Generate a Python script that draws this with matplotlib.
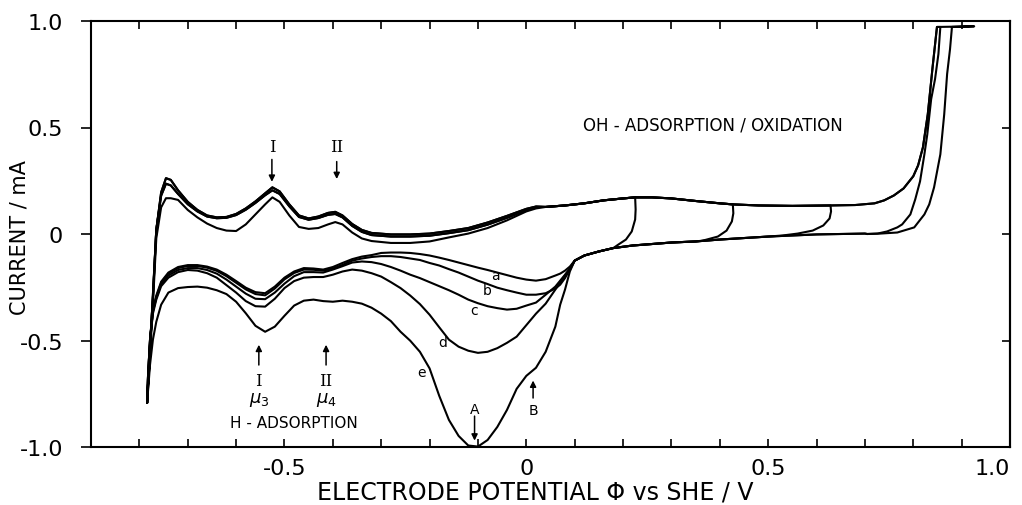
import matplotlib
matplotlib.use("Agg")
import matplotlib.pyplot as plt

# ---- anodic sweep, hydrogen + double layer range (V, mA) ----
pot_anod_h = [-0.784, -0.782, -0.778, -0.772, -0.765, -0.755, -0.745, -0.735, -0.72, -0.70,
              -0.68, -0.66, -0.64, -0.62, -0.60, -0.58, -0.56, -0.54, -0.525, -0.51,
              -0.49, -0.47, -0.45, -0.43, -0.41, -0.395, -0.38, -0.36, -0.34, -0.32,
              -0.28, -0.24, -0.20, -0.16, -0.12, -0.08, -0.04, 0.0, 0.02]
cur_anod_1 = [-0.793, -0.70, -0.52, -0.30, 0.02, 0.195, 0.262, 0.254, 0.205, 0.151,
              0.113, 0.087, 0.078, 0.08, 0.094, 0.12, 0.153, 0.191, 0.219, 0.2,
              0.139, 0.087, 0.073, 0.082, 0.099, 0.104, 0.087, 0.047, 0.019, 0.005,
              -0.002, -0.002, 0.002, 0.014, 0.028, 0.054, 0.085, 0.118, 0.129]
cur_anod_2 = [-0.793, -0.70, -0.545, -0.285, 0.02, 0.18, 0.236, 0.228, 0.188, 0.14,
              0.106, 0.082, 0.074, 0.076, 0.089, 0.114, 0.146, 0.182, 0.205, 0.188,
              0.13, 0.08, 0.067, 0.075, 0.09, 0.094, 0.078, 0.038, 0.01, -0.005,
              -0.012, -0.012, -0.008, 0.004, 0.018, 0.044, 0.076, 0.112, 0.127]
cur_anod_3 = [-0.793, -0.72, -0.57, -0.33, -0.02, 0.125, 0.168, 0.168, 0.16, 0.113,
              0.078, 0.049, 0.028, 0.016, 0.014, 0.045, 0.092, 0.139, 0.172, 0.151,
              0.087, 0.033, 0.024, 0.028, 0.045, 0.056, 0.045, 0.007, -0.021, -0.033,
              -0.042, -0.042, -0.035, -0.016, 0.002, 0.028, 0.064, 0.106, 0.12]

# ---- anodic sweep, OH adsorption / oxidation range (shared) ----
pot_anod_ox = [0.04, 0.08, 0.12, 0.16, 0.20, 0.225, 0.26, 0.30, 0.35, 0.40, 0.427, 0.48,
               0.55, 0.629, 0.68, 0.72, 0.74, 0.76, 0.78, 0.80, 0.81, 0.82, 0.83, 0.84, 0.849]
cur_anod_ox = [0.127, 0.134, 0.144, 0.158, 0.167, 0.172, 0.172, 0.167, 0.155, 0.144, 0.139, 0.134,
               0.132, 0.134, 0.136, 0.144, 0.158, 0.181, 0.214, 0.271, 0.322, 0.407, 0.562, 0.784, 0.972]

# ---- reversal of each sweep and way back to the double layer line ----
pot_ret_a = [0.225, 0.226, 0.225, 0.218, 0.206, 0.19]
cur_ret_a = [0.172, 0.115, 0.068, 0.012, -0.026, -0.05]
pot_ret_b = [0.427, 0.428, 0.425, 0.414, 0.396, 0.365]
cur_ret_b = [0.139, 0.097, 0.059, 0.016, -0.012, -0.031]
pot_ret_c = [0.629, 0.630, 0.627, 0.614, 0.592, 0.561, 0.53]
cur_ret_c = [0.134, 0.106, 0.073, 0.04, 0.016, 0.002, -0.007]
pot_ret_d = [0.856, 0.852, 0.845, 0.837, 0.829, 0.823, 0.814, 0.804, 0.794, 0.777,
             0.767, 0.746, 0.726, 0.705]
cur_ret_d = [0.972, 0.845, 0.727, 0.633, 0.468, 0.374, 0.247, 0.162, 0.092, 0.045,
             0.031, 0.012, 0.002, 0.0]
pot_ret_e = [0.926, 0.880, 0.876, 0.870, 0.864, 0.856, 0.843, 0.833, 0.823, 0.802,
             0.767, 0.732, 0.705]
cur_ret_e = [0.975, 0.972, 0.868, 0.751, 0.562, 0.374, 0.219, 0.139, 0.092, 0.031,
             0.007, 0.002, 0.0]

# ---- cathodic double layer line (shared) ----
pot_dl = [0.70, 0.65, 0.60, 0.55, 0.50, 0.45, 0.40, 0.35, 0.30, 0.26, 0.22, 0.18, 0.15, 0.12, 0.10]
cur_dl = [0.002, 0.0, -0.002, -0.007, -0.012, -0.019, -0.026, -0.035, -0.04, -0.047,
          -0.054, -0.066, -0.082, -0.101, -0.125]

# ---- cathodic sweep, oxide reduction + hydrogen range ----
pot_cath = [-0.784, -0.782, -0.778, -0.772, -0.765, -0.755, -0.74, -0.72, -0.70, -0.68,
            -0.66, -0.64, -0.62, -0.60, -0.58, -0.56, -0.54, -0.52, -0.50, -0.48,
            -0.46, -0.44, -0.42, -0.40, -0.38, -0.36, -0.34, -0.32, -0.30, -0.28,
            -0.26, -0.24, -0.22, -0.20, -0.18, -0.16, -0.14, -0.12, -0.10, -0.08,
            -0.06, -0.04, -0.02, 0.0, 0.02, 0.04, 0.06, 0.07, 0.08, 0.09]
cur_cath_a = [-0.793, -0.661, -0.496, -0.355, -0.289, -0.224, -0.181, -0.155, -0.146, -0.146,
              -0.153, -0.167, -0.191, -0.221, -0.252, -0.273, -0.278, -0.247, -0.205, -0.176,
              -0.16, -0.162, -0.167, -0.155, -0.136, -0.118, -0.106, -0.099, -0.089, -0.087,
              -0.087, -0.089, -0.094, -0.101, -0.111, -0.122, -0.134, -0.146, -0.158, -0.169,
              -0.181, -0.193, -0.205, -0.214, -0.219, -0.212, -0.195, -0.186, -0.172, -0.153]
cur_cath_b = [-0.793, -0.665, -0.50, -0.36, -0.295, -0.23, -0.186, -0.16, -0.15, -0.15,
              -0.158, -0.173, -0.198, -0.229, -0.26, -0.282, -0.288, -0.256, -0.213, -0.183,
              -0.167, -0.168, -0.172, -0.162, -0.145, -0.125, -0.115, -0.108, -0.104, -0.104,
              -0.108, -0.115, -0.122, -0.136, -0.148, -0.165, -0.181, -0.2, -0.219, -0.235,
              -0.252, -0.264, -0.275, -0.285, -0.285, -0.278, -0.256, -0.238, -0.207, -0.167]
cur_cath_c = [-0.793, -0.661, -0.496, -0.365, -0.30, -0.236, -0.195, -0.169, -0.16, -0.16,
              -0.169, -0.186, -0.214, -0.247, -0.28, -0.304, -0.306, -0.275, -0.233, -0.198,
              -0.179, -0.179, -0.181, -0.167, -0.151, -0.134, -0.129, -0.132, -0.141, -0.155,
              -0.172, -0.191, -0.207, -0.226, -0.245, -0.264, -0.285, -0.308, -0.325, -0.339,
              -0.348, -0.355, -0.351, -0.336, -0.322, -0.285, -0.247, -0.219, -0.191, -0.162]
cur_cath_d = [-0.793, -0.661, -0.505, -0.374, -0.308, -0.245, -0.205, -0.179, -0.169, -0.172,
              -0.184, -0.205, -0.24, -0.275, -0.315, -0.339, -0.341, -0.304, -0.254, -0.221,
              -0.205, -0.202, -0.202, -0.191, -0.176, -0.167, -0.172, -0.184, -0.2, -0.226,
              -0.254, -0.289, -0.329, -0.379, -0.438, -0.496, -0.529, -0.548, -0.558, -0.553,
              -0.536, -0.511, -0.482, -0.428, -0.374, -0.327, -0.261, -0.228, -0.195, -0.165]
cur_cath_e = [-0.793, -0.732, -0.614, -0.496, -0.412, -0.332, -0.275, -0.254, -0.249, -0.247,
              -0.252, -0.264, -0.282, -0.318, -0.372, -0.431, -0.459, -0.435, -0.384, -0.336,
              -0.313, -0.308, -0.315, -0.318, -0.313, -0.318, -0.327, -0.346, -0.374, -0.409,
              -0.459, -0.501, -0.553, -0.631, -0.76, -0.873, -0.948, -0.993, -0.998, -0.967,
              -0.906, -0.826, -0.727, -0.666, -0.628, -0.553, -0.435, -0.332, -0.261, -0.176]

# label of each trace and where it sits
trace_names = ['a', 'b', 'c', 'd', 'e']
trace_label_pos = [(-0.064, -0.191), (-0.08, -0.261), (-0.109, -0.355), (-0.172, -0.506), (-0.216, -0.647)]

traces = {
    'a': (cur_anod_1, 0.225, pot_ret_a, cur_ret_a, cur_cath_a),
    'b': (cur_anod_1, 0.427, pot_ret_b, cur_ret_b, cur_cath_b),
    'c': (cur_anod_2, 0.629, pot_ret_c, cur_ret_c, cur_cath_c),
    'd': (cur_anod_2, 0.849, pot_ret_d, cur_ret_d, cur_cath_d),
    'e': (cur_anod_3, 0.849, pot_ret_e, cur_ret_e, cur_cath_e),
}


def full_cycle(cur_anod, v_rev, ret_pot, ret_cur, cur_cath):
    pot = list(pot_anod_h)
    cur = list(cur_anod)
    for p, c in zip(pot_anod_ox, cur_anod_ox):
        if p <= v_rev:
            pot.append(p)
            cur.append(c)
    pot += ret_pot
    cur += ret_cur
    for p, c in zip(pot_dl, cur_dl):
        if p < min(ret_pot):
            pot.append(p)
            cur.append(c)
    pot += pot_cath[::-1]
    cur += cur_cath[::-1]
    return pot, cur


fig = plt.figure(figsize=(10.22, 5.06), dpi=100)
ax = fig.add_axes([91 / 1022, 1 - 448 / 506, 919 / 1022, 426 / 506])

for name in trace_names:
    p, c = full_cycle(*traces[name])
    ax.plot(p, c, color='black', lw=1.5, solid_joinstyle='round', solid_capstyle='round')

for name, (x, y) in zip(trace_names, trace_label_pos):
    ax.text(x, y, name, fontsize=10, ha='center', va='center')

ax.set_xlim(-0.9, 1.0)
ax.set_ylim(-1.0, 1.0)
ax.set_xticks([-0.5, 0.0, 0.5, 1.0], labels=['-0.5', '0', '0.5', '1.0'])
ax.set_xticks([round(-0.8 + 0.1 * k, 1) for k in range(18)], minor=True)
ax.set_yticks([-1.0, -0.5, 0.0, 0.5, 1.0], labels=['-1.0', '-0.5', '0', '0.5', '1.0'])
ax.tick_params(axis='x', which='both', direction='in', top=True, length=6, width=1.2,
               labelsize=16, pad=8)
ax.tick_params(axis='y', direction='out', length=7, width=1.2, labelsize=16, pad=13)
# last x label would stick out past the frame, keep it inside
ax.get_xticklabels()[-1].set_horizontalalignment('right')
rax = ax.secondary_yaxis('right')
rax.set_yticks([-0.5, 0.0, 0.5], labels=['', '', ''])
rax.tick_params(direction='in', length=6, width=1.2)
for s in list(ax.spines.values()) + list(rax.spines.values()):
    s.set_linewidth(1.5)

# peak markers
arrow = dict(arrowstyle='-|>', lw=1.1, color='black', mutation_scale=9, shrinkA=0, shrinkB=0)
ax.text(-0.526, 0.412, 'I', family='DejaVu Serif', fontsize=12, ha='center', va='center')
ax.annotate('', xy=(-0.526, 0.245), xytext=(-0.526, 0.35), arrowprops=arrow)
ax.text(-0.392, 0.412, 'II', family='DejaVu Serif', fontsize=12, ha='center', va='center')
ax.annotate('', xy=(-0.392, 0.258), xytext=(-0.392, 0.34), arrowprops=arrow)

ax.annotate('', xy=(-0.553, -0.52), xytext=(-0.553, -0.615), arrowprops=arrow)
ax.text(-0.553, -0.689, 'I', family='DejaVu Serif', fontsize=12, ha='center', va='center')
ax.text(-0.553, -0.774, r'$\mu_3$', fontsize=13, ha='center', va='center')
ax.annotate('', xy=(-0.414, -0.52), xytext=(-0.414, -0.615), arrowprops=arrow)
ax.text(-0.414, -0.689, 'II', family='DejaVu Serif', fontsize=12, ha='center', va='center')
ax.text(-0.414, -0.774, r'$\mu_4$', fontsize=13, ha='center', va='center')
ax.text(-0.48, -0.887, 'H - ADSORPTION', fontsize=11, ha='center', va='center')

ax.text(-0.107, -0.821, 'A', fontsize=10, ha='center', va='center')
ax.annotate('', xy=(-0.107, -0.97), xytext=(-0.107, -0.855), arrowprops=arrow)
ax.text(0.014, -0.826, 'B', fontsize=10, ha='center', va='center')
ax.annotate('', xy=(0.014, -0.688), xytext=(0.014, -0.77), arrowprops=arrow)

ax.text(0.386, 0.515, 'OH - ADSORPTION / OXIDATION', fontsize=12, ha='center', va='center')

fig.text(20 / 1022, 1 - 238 / 506, 'CURRENT / mA', rotation=90, fontsize=15,
         ha='center', va='center')
fig.text(535 / 1022, 1 - 493 / 506, 'ELECTRODE POTENTIAL Φ vs SHE / V', fontsize=17,
         ha='center', va='center')

fig.savefig('out.png', dpi=100)
